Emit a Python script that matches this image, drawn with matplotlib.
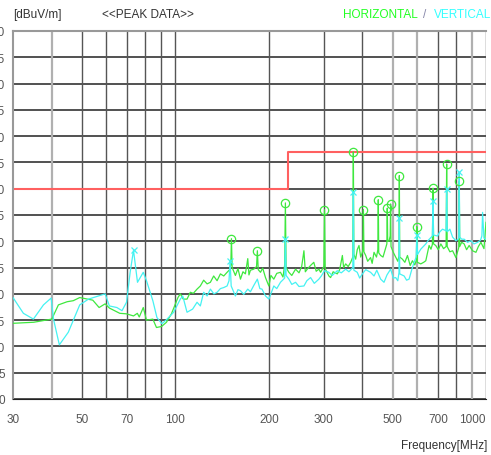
import matplotlib
matplotlib.use("Agg")
import matplotlib.pyplot as plt

# limit line (dBuV/m)
limit_freq = [30, 230, 230, 1000]
limit_level = [40, 40, 47, 47]

# horizontal polarisation trace
h_freq = [30, 35, 40, 42, 44.8, 46.9, 49.2, 54.2, 56.8, 59.4, 61.3, 66.2, 69.6, 73.3, 75.4,
          76.5, 78.8, 80.7, 84.6, 86.9, 90.3, 93.6, 97.1, 101.9, 103.7, 106, 109, 111.7, 114.2,
          117.4, 120.3, 123.3, 126.5, 129.6, 132.8, 136.2, 139.6, 143.1, 146.7, 149.5, 150.8,
          151.5, 152.3, 156, 159, 162, 165, 168, 171, 172.5, 174.4, 178.8, 182.5, 183.6, 184.8,
          187.9, 191, 195, 199.9, 203, 207.4, 212, 217.9, 222, 224.8, 226, 227.2, 231.9, 237,
          243.7, 250, 255, 259.3, 262, 265.8, 272.4, 279, 284, 289.7, 293.4, 300.5, 302, 303.5,
          312, 316, 322, 332, 338, 344.8, 348, 353.4, 360, 366.7, 372.5, 374, 375.5, 380.5,
          385, 390, 395, 400, 401.5, 403, 404.5, 409.9, 416, 425, 430, 436, 444, 448.5, 450,
          451.5, 458, 466, 475.5, 479.5, 481, 482.5, 487, 491.5, 493, 494.5, 503, 512, 520,
          524.5, 526, 527.5, 538, 548, 558.6, 570, 579.6, 590, 597, 599, 601, 616.6, 630,
          640, 655.8, 665, 672, 675, 678, 689, 702, 715.5, 730, 744, 747, 750, 765, 780.6,
          800, 817, 820, 823, 835, 850.6, 866, 882.6, 905, 928, 945, 963, 985, 1000]
h_level = [14.4, 14.6, 15.2, 17.9, 18.5, 18.7, 19.3, 18.8, 17.4, 18.1, 17.3, 16.3, 16.2, 15.8, 16.3,
           15.6, 17.4, 15.0, 15.2, 13.6, 13.8, 14.6, 16.2, 19.3, 20.0, 19.0, 19.0, 20.3, 20.1,
           20.9, 21.5, 22.6, 21.9, 22.2, 23.4, 22.5, 23.8, 23.4, 24.1, 24.6, 25.5,
           30.5, 25.0, 23.5, 24.8, 22.8, 24.2, 23.8, 26.7, 23.6, 24.5, 24.7, 25.2, 28.2, 24.6,
           24.1, 24.9, 23.1, 21.5, 23.5, 22.8, 23.9, 24.1, 23.2, 25.5, 37.3, 25.0, 24.1, 23.5,
           24.7, 24.0, 25.2, 28.2, 24.2, 24.7, 25.4, 26.0, 24.3, 24.7, 24.1, 25.2, 36.0, 24.8,
           23.4, 23.1, 24.2, 23.8, 24.6, 27.3, 25.0, 25.7, 25.2, 26.0, 27.0, 47.0, 27.5, 26.6,
           28.4, 29.2, 27.0, 27.9, 28.5, 36.0, 28.0, 27.3, 26.2, 26.9, 25.8, 27.9, 27.0, 28.4, 37.9,
           27.8, 27.3, 27.0, 28.8, 29.5, 36.3, 30.0, 30.0, 31.0, 37.1, 29.0, 27.9, 27.0, 26.2,
           27.2, 42.5, 27.0, 26.6, 26.0, 27.3, 25.4, 26.3, 25.5, 26.5, 32.8, 26.0, 25.7, 26.0,
           26.3, 29.2, 28.5, 29.4, 40.1, 29.5, 29.2, 28.4, 29.5, 28.6, 29.0, 44.7, 29.0, 28.0, 28.2,
           26.9, 28.8, 41.4, 29.0, 29.8, 29.5, 28.4, 29.2, 28.2, 27.9, 29.0, 29.8, 28.6, 33.6]

# vertical polarisation trace
v_freq = [30, 32.4, 34.9, 37.6, 39.8, 40.5, 42.3, 45.2, 49.2, 52.5, 55.9, 59.4, 61.3, 64.8, 67.3,
          69.6, 71.5, 73.3, 75.5, 78.8, 80.7, 84.6, 87.2, 90.5, 94.0, 98.7, 103.7, 105.6, 109,
          113.6, 117.4, 120.3, 123.3, 126.5, 129.6, 133, 136.2, 139.6, 143.1, 146.7, 148.8,
          150, 151.2, 156, 159, 162, 166, 171, 174.4, 178.8, 183.6, 187, 190, 195, 200, 207.4,
          212, 217.9, 224.8, 226, 227.2, 231.9, 237, 243.7, 250, 259.3, 265, 272.4, 280, 289.7,
          295, 302, 312, 320, 332, 342, 353.4, 362, 372.5, 374, 375.5, 385, 392, 400, 410,
          425, 436, 445, 458, 469.5, 480, 493, 503, 512, 520, 524.5, 526, 527.5, 545, 555,
          565.4, 576, 586.8, 596, 599, 602, 616.6, 628, 640, 652, 664, 672, 675, 678, 698,
          710, 724.5, 744, 747, 750, 765, 780.6, 800, 817, 820, 823, 835, 850.6, 872, 894,
          915, 939.6, 960, 970, 975, 985, 1000]
v_level = [19.3, 16.3, 15.2, 17.9, 19.2, 15.2, 10.3, 12.7, 17.9, 19.0, 19.5, 20.0, 17.7, 17.4, 16.8,
           18.4, 24.1, 28.3, 22.2, 24.1, 22.5, 18.7, 15.5, 14.3, 15.2, 16.5, 19.0, 19.6, 16.5,
           17.1, 18.4, 17.7, 20.3, 19.6, 20.9, 20.0, 20.3, 21.0, 21.2, 21.5, 22.5,
           26.3, 21.5, 19.6, 20.8, 20.6, 19.9, 20.9, 20.4, 21.6, 22.8, 21.0, 20.9, 19.6, 19.0, 21.5,
           21.0, 22.2, 23.0, 30.4, 23.5, 22.8, 21.8, 22.2, 21.4, 21.5, 22.5, 23.1, 22.0, 22.8,
           23.4, 24.4, 24.1, 23.5, 24.4, 24.0, 24.7, 24.2, 25.0, 39.3, 24.5, 24.1, 23.0, 23.8, 24.6,
           24.1, 23.4, 24.5, 22.8, 22.2, 23.6, 24.7, 23.0, 23.1, 22.5, 24.0, 34.5, 23.8, 23.4, 22.6,
           22.8, 24.5, 26.0, 27.0, 31.2, 27.5, 28.5, 29.0, 29.5, 30.2, 30.7, 31.0, 37.7, 31.2, 31.0,
           31.8, 32.3, 32.0, 40.0, 31.8, 32.3, 30.8, 30.1, 30.5, 43.1, 30.8, 30.4, 30.4, 29.8, 30.1,
           29.5, 29.8, 30.2, 31.0, 35.5, 30.6, 30.4]

# detected peaks
h_peak_freq = [151.5, 183.6, 226, 302, 374, 403, 450, 481, 493, 526, 599, 675, 747, 820]
h_peak_level = [30.5, 28.2, 37.3, 36.0, 47.0, 36.0, 37.9, 36.3, 37.1, 42.5, 32.8, 40.1, 44.7, 41.4]
v_peak_freq = [73.3, 150, 226, 374, 526, 599, 675, 747, 820]
v_peak_level = [28.3, 26.3, 30.4, 39.3, 34.5, 31.2, 37.7, 40.0, 43.1]

x_ticks = [30, 50, 70, 100, 200, 300, 500, 700, 1000]
y_ticks = list(range(0, 75, 5))
x_grid = [40, 50, 60, 70, 80, 90, 100, 200, 300, 400, 500, 600, 700, 800, 900, 1000]
x_grid_light = [40, 500, 600, 900]

green = "#3fe83f"
cyan = "#45f2f2"
font = ["Liberation Sans Narrow", "Liberation Sans", "DejaVu Sans"]
plt.rcParams["font.family"] = font

fig = plt.figure(figsize=(4.91, 4.56), dpi=100)
ax = fig.add_axes([13 / 491, 1 - 400 / 456, 473 / 491, 368 / 456])
ax.set_xscale("log")
ax.set_xlim(30, 1000)
ax.set_ylim(0, 70)

for y in y_ticks:
    ax.axhline(y, color="#222222", lw=1.1, zorder=1)
for x in x_grid:
    if x in x_grid_light:
        ax.axvline(x, color="#b0b0b0", lw=1.6, zorder=1)
    else:
        ax.axvline(x, color="#555555", lw=1.0, zorder=1)

ax.plot(limit_freq, limit_level, color="#ff6060", lw=1.5, zorder=2)
ax.plot(h_freq, h_level, color=green, lw=0.9, zorder=3)
ax.plot(v_freq, v_level, color=cyan, lw=0.9, zorder=3)
ax.plot(h_peak_freq, h_peak_level, "o", ms=6, mfc="none", mec=green, mew=0.9, zorder=4)
ax.plot(v_peak_freq, v_peak_level, "x", ms=5, color=cyan, mew=0.9, zorder=4)

ax.set_xticks(x_ticks)
ax.set_xticklabels([str(t) for t in x_ticks])
ax.xaxis.set_minor_locator(matplotlib.ticker.NullLocator())
ax.get_xticklabels()[-1].set_horizontalalignment("right")
ax.set_yticks(y_ticks)
ax.set_yticklabels([str(t) for t in y_ticks])
ax.tick_params(axis="x", length=0, pad=10, labelsize=8.5, labelcolor="#555555")
ax.tick_params(axis="y", length=0, pad=6, labelsize=8.5, labelcolor="#555555")
for side in ["left", "top"]:
    ax.spines[side].set_color("#999999")
    ax.spines[side].set_linewidth(1.5)
ax.spines["right"].set_visible(False)
ax.spines["bottom"].set_color("#222222")

fig.text(13 / 491, 1 - 15 / 456, "[dBuV/m]", fontsize=8.5, color="#333333", va="center", ha="left")
fig.text(148 / 491, 1 - 15 / 456, "<<PEAK DATA>>", fontsize=8.5, color="#333333", va="center", ha="center")
fig.text(380 / 491, 1 - 15 / 456, "HORIZONTAL", fontsize=8.5, color="#22ff22", va="center", ha="center")
fig.text(425 / 491, 1 - 15 / 456, "/", fontsize=8.5, color="#8888aa", va="center", ha="center")
fig.text(463 / 491, 1 - 15 / 456, "VERTICAL", fontsize=8.5, color="#33ffff", va="center", ha="center")
fig.text(487 / 491, 1 - 446 / 456, "Frequency[MHz]", fontsize=8.5, color="#333333", va="center", ha="right")

fig.savefig("out.png", dpi=100)
